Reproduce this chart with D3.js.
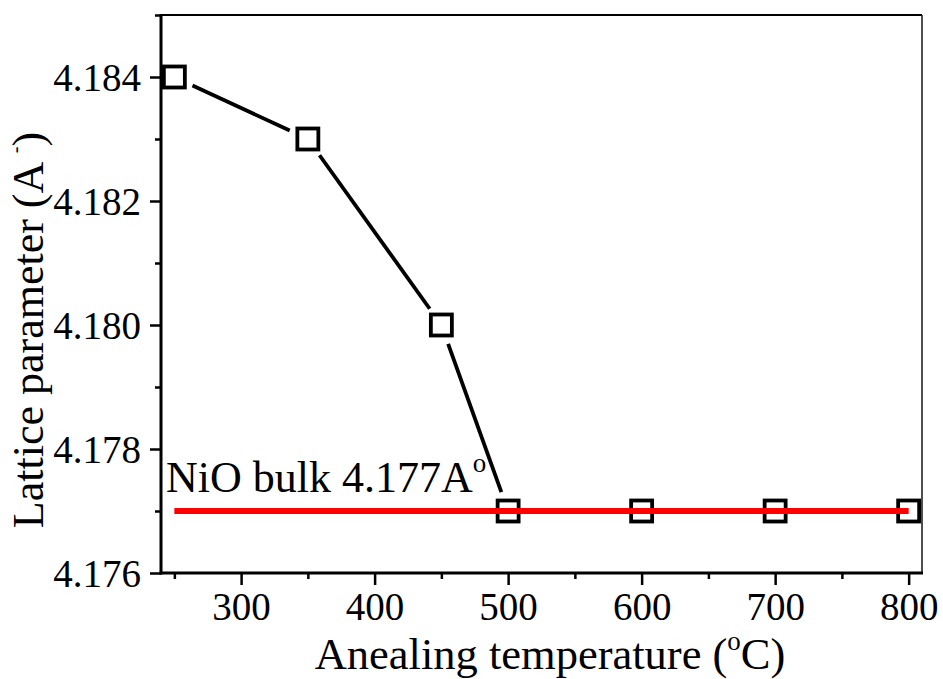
<!DOCTYPE html>
<html><head><meta charset="utf-8">
<script src="https://cdn.jsdelivr.net/npm/d3@7"></script>
<style>body{margin:0;background:#fff}svg{display:block}svg text{font-family:"Liberation Serif","Times New Roman",Tinos,Times,"DejaVu Serif",serif !important;fill:#000}</style>
</head><body><svg id="c" width="943" height="679"></svg>
<script>
const temps = [250, 350, 450, 500, 600, 700, 800];
const lattice = [4.184, 4.183, 4.180, 4.177, 4.177, 4.177, 4.177];
const bulkValue = 4.177;
const bulkRange = [250, 800];
const xMajorTicks = [300, 400, 500, 600, 700, 800];
const xMinorTicks = [250, 350, 450, 550, 650, 750];
const yMajorTicks = [4.176, 4.178, 4.180, 4.182, 4.184];
const yMinorTicks = [4.177, 4.179, 4.181, 4.183, 4.185];

const svg = d3.select("#c");
const L = 161, R = 922, T = 15, B = 573;
const x = d3.scaleLinear().domain([240, 810]).range([L, R]);
const y = d3.scaleLinear().domain([4.176, 4.185]).range([B, T]);
const FF = '"Liberation Serif", "Times New Roman", Tinos, Times, "DejaVu Serif", serif';

// frame top/right
svg.append("line").attr("x1", L).attr("x2", R).attr("y1", T).attr("y2", T).attr("stroke", "#000").attr("stroke-width", 2);
svg.append("line").attr("x1", R).attr("x2", R).attr("y1", T).attr("y2", B).attr("stroke", "#222").attr("stroke-width", 1.6);

// x axis
const gx = svg.append("g").attr("transform", `translate(0,${B})`);
gx.call(d3.axisBottom(x).tickValues(xMinorTicks).tickSize(6).tickFormat(""));
gx.call(g => g.append("g").call(d3.axisBottom(x).tickValues(xMajorTicks).tickSize(12).tickFormat(d3.format("d"))));
gx.selectAll(".domain").remove();
gx.selectAll("g").attr("font-family", FF);
gx.selectAll("line").attr("stroke", "#000").attr("stroke-width", 2.5);
gx.selectAll("text").attr("font-size", 39).attr("dy", 0).attr("y", 47);
svg.append("line").attr("x1", L - 1.5).attr("x2", R + 1).attr("y1", B).attr("y2", B).attr("stroke", "#000").attr("stroke-width", 3);

// y axis
const gy = svg.append("g").attr("transform", `translate(${L},0)`);
gy.call(d3.axisLeft(y).tickValues(yMinorTicks).tickSize(6).tickFormat(""));
gy.call(g => g.append("g").call(d3.axisLeft(y).tickValues(yMajorTicks).tickSize(11).tickFormat(d3.format(".3f"))));
gy.selectAll(".domain").remove();
gy.selectAll("g").attr("font-family", FF);
gy.selectAll("line").attr("stroke", "#000").attr("stroke-width", 2.5);
gy.selectAll("text").attr("font-size", 39).attr("x", -20).attr("dy", "0.34em");
svg.append("line").attr("x1", L).attr("x2", L).attr("y1", T - 1).attr("y2", B + 1.5).attr("stroke", "#000").attr("stroke-width", 3);

// data line segments with gaps around symbols
const pts = temps.map((t, i) => [x(t), y(lattice[i])]);
const gap = 20;
for (let i = 0; i < pts.length - 1; i++) {
  const [x0, y0] = pts[i], [x1, y1] = pts[i + 1];
  const dx = x1 - x0, dy = y1 - y0, len = Math.hypot(dx, dy);
  if (len <= 2 * gap) continue;
  const ux = dx / len, uy = dy / len;
  svg.append("line")
    .attr("x1", x0 + ux * gap).attr("y1", y0 + uy * gap)
    .attr("x2", x1 - ux * gap).attr("y2", y1 - uy * gap)
    .attr("stroke", "#000").attr("stroke-width", 3.8);
}

// symbols
const s = 21;
svg.selectAll("rect.pt").data(temps).join("rect").attr("class", "pt")
  .attr("x", (d) => x(d) - s / 2).attr("y", (d, i) => y(lattice[i]) - s / 2)
  .attr("width", s).attr("height", s)
  .attr("fill", "#fff").attr("stroke", "#000").attr("stroke-width", 3.8);

// bulk reference line
svg.append("line")
  .attr("x1", x(bulkRange[0])).attr("x2", x(bulkRange[1]))
  .attr("y1", y(bulkValue)).attr("y2", y(bulkValue))
  .attr("stroke", "#ff0000").attr("stroke-width", 6);

// annotation
const ann = svg.append("text").attr("x", 166).attr("y", 492).attr("font-size", 44).attr("font-family", FF);
ann.append("tspan").text("NiO bulk 4.177A");
ann.append("tspan").attr("font-size", 27).attr("dy", -20).text("o");

// axis titles
const xt = svg.append("text").attr("x", 550).attr("y", 669).attr("font-size", 44.5).attr("text-anchor", "middle").attr("font-family", FF);
xt.append("tspan").text("Anealing temperature (");
xt.append("tspan").attr("font-size", 27).attr("dy", -19).text("o");
xt.append("tspan").attr("dy", 19).text("C)");

const yt = svg.append("text").attr("transform", "translate(43,330) rotate(-90)").attr("font-size", 44).attr("text-anchor", "middle").attr("font-family", FF);
yt.append("tspan").text("Lattice parameter (A ");
yt.append("tspan").attr("font-size", 20).attr("dy", -21).text("-");
yt.append("tspan").attr("dy", 21).text(")");
</script></body></html>
